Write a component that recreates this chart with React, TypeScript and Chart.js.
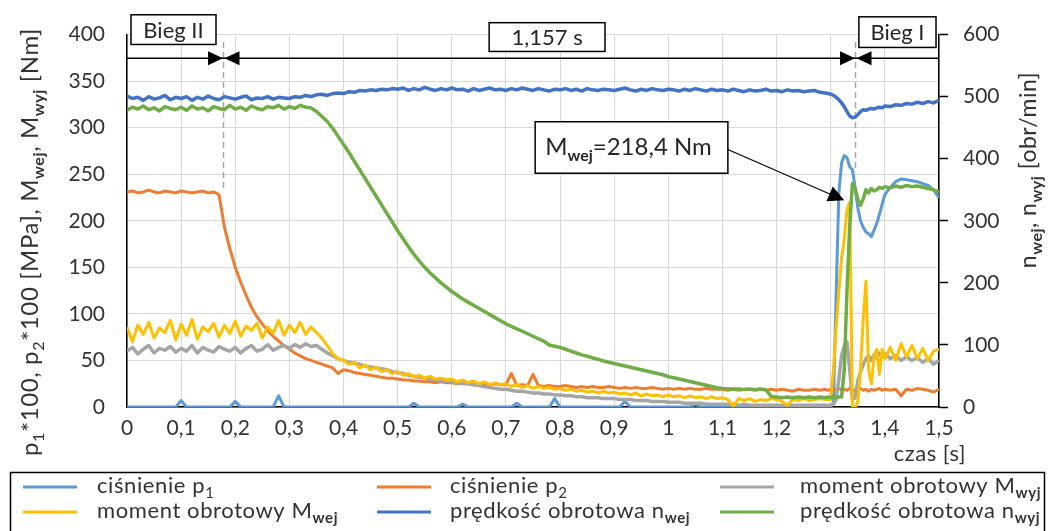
import React, { useEffect, useRef } from 'react';
import { Chart, registerables } from 'chart.js';
Chart.register(...registerables);

// ---------- data ----------
const times = [
  0, 0.01, 0.02, 0.03, 0.04, 0.05, 0.06, 0.07, 0.08, 0.09,
  0.1, 0.11, 0.12, 0.13, 0.14, 0.15, 0.16, 0.17, 0.18, 0.19,
  0.2, 0.21, 0.22, 0.23, 0.24, 0.25, 0.26, 0.27, 0.28, 0.29,
  0.3, 0.31, 0.32, 0.33, 0.34, 0.35, 0.36, 0.37, 0.38, 0.39,
  0.4, 0.41, 0.42, 0.43, 0.44, 0.45, 0.46, 0.47, 0.48, 0.49,
  0.5, 0.51, 0.52, 0.53, 0.54, 0.55, 0.56, 0.57, 0.58, 0.59,
  0.6, 0.61, 0.62, 0.63, 0.64, 0.65, 0.66, 0.67, 0.68, 0.69,
  0.7, 0.71, 0.72, 0.73, 0.74, 0.75, 0.76, 0.77, 0.78, 0.79,
  0.8, 0.81, 0.82, 0.83, 0.84, 0.85, 0.86, 0.87, 0.88, 0.89,
  0.9, 0.91, 0.92, 0.93, 0.94, 0.95, 0.96, 0.97, 0.98, 0.99,
  1.0, 1.01, 1.02, 1.03, 1.04, 1.05, 1.06, 1.07, 1.08, 1.09,
  1.1, 1.11, 1.12, 1.13, 1.14, 1.15, 1.16, 1.17, 1.18, 1.19,
  1.2, 1.21, 1.22, 1.23, 1.24, 1.25, 1.26, 1.27, 1.28, 1.29,
  1.295, 1.3, 1.305, 1.31, 1.315, 1.32, 1.325, 1.33, 1.335, 1.34, 1.345,
  1.35, 1.355, 1.36, 1.365, 1.37, 1.375, 1.38, 1.385, 1.39, 1.395, 1.4,
  1.41, 1.42, 1.43, 1.44, 1.45, 1.46, 1.47, 1.48, 1.49, 1.5,
];

// ciśnienie p1 (×100) – left axis
const pressureP1 = [
  0, 0, 0, 0, 0, 0, 0, 0, 0, 0,
  7, 0, 0, 0, 0, 0, 0, 0, 0, 0,
  6, 0, 0, 0, 0, 0, 0, 0, 12, 0,
  0, 0, 0, 0, 0, 0, 0, 0, 0, 0,
  0, 0, 0, 0, 0, 0, 0, 0, 0, 0,
  0, 0, 0, 4, 0, 0, 0, 0, 0, 0,
  0, 0, 3, 0, 0, 0, 0, 0, 0, 0,
  0, 0, 4, 0, 0, 0, 0, 0, 0, 9,
  0, 0, 0, 0, 0, 0, 0, 0, 0, 0,
  0, 0, 6, 0, 0, 0, 0, 0, 0, 0,
  0, 0, 0, 0, 0, 3, 0, 0, 0, 0,
  0, 0, 0, 0, 0, 0, 0, 0, 0, 0,
  0, 0, 0, 0, 0, 0, 0, 0, 0, 0,
  0, 0, 5, 120, 230, 262, 270, 268, 258, 255, 236,
  214, 200, 193, 188, 186, 183, 190, 197, 207, 218, 228,
  236, 242, 245, 244, 243, 242, 240, 238, 233, 225,
];

// ciśnienie p2 (×100) – left axis
const pressureP2 = [
  231, 232, 230, 231, 233, 231, 230, 232, 231, 230,
  232, 231, 230, 231, 232, 230, 231, 228, 193, 170,
  150, 134, 120, 107, 97, 89, 82, 76, 71, 66,
  62, 58, 55, 52, 50, 48, 46, 44, 42, 36,
  40, 39, 37, 36, 35, 34, 33, 32, 31, 31,
  30, 29, 29, 28, 28, 27, 27, 26, 27, 26,
  26, 25, 26, 25, 25, 24, 25, 24, 25, 24,
  24, 36, 23, 24, 23, 35, 23, 22, 23, 22,
  22, 23, 22, 21, 22, 21, 22, 21, 21, 22,
  21, 20, 21, 20, 21, 20, 20, 21, 20, 19,
  20, 19, 20, 19, 20, 19, 19, 20, 19, 19,
  19, 18, 19, 18, 19, 19, 18, 19, 18, 19,
  18, 19, 18, 17, 19, 18, 18, 19, 18, 19,
  18, 19, 18, 19, 20, 18, 19, 18, 20, 19, 18,
  19, 20, 18, 19, 17, 19, 18, 19, 20, 18, 19,
  18, 19, 12, 19, 18, 20, 19, 18, 16, 19,
];

// moment obrotowy Mwyj [Nm] – left axis
const torqueOut = [
  60, 64, 57, 62, 66, 58, 63, 61, 65, 59,
  63, 60, 66, 58, 64, 61, 59, 65, 62, 60,
  64, 58, 63, 66, 60, 62, 67, 61, 64, 66,
  63, 67, 64, 68, 65, 66, 62, 58, 55, 52,
  50, 48, 47, 46, 44, 43, 42, 41, 40, 38,
  37, 36, 34, 33, 32, 31, 30, 29, 28, 28,
  27, 26, 25, 25, 24, 23, 22, 21, 20, 19,
  19, 18, 17, 17, 16, 15, 15, 14, 14, 13,
  13, 12, 12, 11, 11, 10, 10, 10, 9, 9,
  9, 8, 8, 8, 7, 7, 7, 6, 6, 6,
  5, 5, 5, 4, 4, 4, 4, 3, 3, 3,
  3, 3, 3, 2, 3, 2, 2, 2, 2, 2,
  2, 2, 2, 2, 2, 2, 2, 2, 2, 2,
  2, 2, 3, 8, 30, 55, 66, 70, 40, 8, 10,
  28, 38, 45, 52, 55, 50, 56, 52, 58, 54, 57,
  52, 55, 50, 54, 50, 53, 48, 52, 46, 50,
];

// moment obrotowy Mwej [Nm] – left axis
const torqueIn = [
  86, 70, 88, 78, 91, 74, 85, 80, 93, 72,
  89, 77, 94, 73, 86, 81, 90, 75, 88, 79,
  92, 76, 87, 82, 90, 74, 86, 79, 93, 77,
  88, 80, 91, 78, 86, 80, 74, 66, 57, 52,
  50, 46, 48, 42, 45, 40, 43, 38, 40, 36,
  38, 34, 36, 32, 34, 31, 33, 30, 31, 29,
  30, 27, 29, 26, 28, 25, 27, 24, 26, 24,
  25, 22, 24, 21, 23, 20, 22, 20, 21, 19,
  20, 18, 19, 17, 18, 16, 17, 15, 17, 15,
  16, 14, 15, 13, 15, 12, 14, 12, 13, 11,
  13, 11, 12, 10, 12, 10, 11, 9, 11, 9,
  10, 8, 1, 9, 7, 9, 6, 8, 7, 9,
  8, 6, 2, 8, 7, 9, 7, 8, 9, 8,
  8, 8, 40, 85, 125, 160, 180, 212, 220, 0, 0,
  5, 40, 95, 135, 40, 25, 55, 62, 35, 62, 52,
  64, 50, 68, 54, 66, 52, 63, 50, 60, 62,
];

// prędkość obrotowa nwej [obr/min] – right axis
const speedIn = [
  501, 497, 499, 494, 500, 496, 498, 502, 495, 499,
  497, 500, 494, 499, 496, 501, 497, 495, 500, 498,
  496, 499, 501, 495, 498, 497, 500, 496, 499, 498,
  497, 500, 499, 502, 500, 503, 504, 502, 505, 506,
  505, 508, 507, 510, 509, 511, 510, 512, 511, 513,
  512, 514, 510, 513, 511, 515, 512, 510, 513, 511,
  514, 511, 512, 509, 513, 510, 512, 514, 511, 512,
  510, 513, 511, 514, 512, 510, 513, 511, 509, 512,
  511, 513, 510, 512, 509, 513, 511, 510, 512, 511,
  510, 512, 514, 511, 509, 512, 510, 513, 511, 510,
  512, 511, 509, 512, 510, 513, 511, 509, 512, 510,
  511, 509, 512, 510, 508, 511, 509, 510, 512, 509,
  510, 508, 511, 509, 510, 508, 509, 510, 507, 506,
  505, 504, 502, 499, 495, 490, 484, 476, 469, 466, 467,
  471, 476, 479, 478, 480, 481, 480, 482, 483, 482, 485,
  484, 487, 486, 489, 488, 491, 489, 492, 490, 494,
];

// prędkość obrotowa nwyj [obr/min] – right axis
const speedOut = [
  478, 483, 480, 485, 479, 482, 477, 484, 481, 479,
  483, 478, 485, 480, 482, 477, 484, 481, 479, 486,
  480, 483, 478, 485, 481, 479, 484, 482, 486, 480,
  484, 481, 486, 483, 482, 476, 468, 460, 449, 436,
  423, 410, 396, 382, 368, 354, 340, 326, 312, 298,
  284, 271, 258, 246, 235, 225, 216, 208, 200, 193,
  186, 180, 174, 169, 164, 159, 154, 149, 144, 139,
  134, 130, 126, 122, 118, 114, 110, 106, 100, 98,
  96, 93, 90, 87, 84, 82, 79, 77, 74, 72,
  70, 68, 66, 64, 62, 60, 58, 56, 54, 52,
  49, 47, 45, 43, 41, 39, 37, 35, 33, 31,
  30, 29, 29, 29, 28, 29, 28, 29, 28, 17,
  16, 15, 16, 15, 16, 15, 16, 15, 16, 15,
  16, 15, 16, 15, 16, 16, 60, 187, 290, 360, 352,
  335, 325, 335, 350, 345, 352, 348, 350, 354, 352, 355,
  353, 356, 354, 357, 355, 356, 354, 352, 350, 346,
];

// ---------- styling / annotations ----------
const FONT = 'Lato';
const TXT = '#333333';

type Seg = { t: string; sub?: boolean; bold?: boolean };

const seriesDefs = [
  { data: pressureP1, color: '#5B9BD5', axis: 'y', order: 6, width: 3, label: [{ t: 'ciśnienie p' }, { t: '1', sub: true }] },
  { data: pressureP2, color: '#ED7D31', axis: 'y', order: 5, width: 3, label: [{ t: 'ciśnienie p' }, { t: '2', sub: true }] },
  { data: torqueOut, color: '#A5A5A5', axis: 'y', order: 4, width: 3.5, label: [{ t: 'moment obrotowy M' }, { t: 'wyj', sub: true, bold: true }] },
  { data: torqueIn, color: '#FFC000', axis: 'y', order: 3, width: 3, label: [{ t: 'moment obrotowy M' }, { t: 'wej', sub: true, bold: true }] },
  { data: speedIn, color: '#4472C4', axis: 'y1', order: 2, width: 3.5, label: [{ t: 'prędkość obrotowa n' }, { t: 'wej', sub: true, bold: true }] },
  { data: speedOut, color: '#70AD47', axis: 'y1', order: 1, width: 3.5, label: [{ t: 'prędkość obrotowa n' }, { t: 'wyj', sub: true, bold: true }] },
];

const shiftTimes = [0.177, 1.345];
const spanLevel = 374.5;
const dashRanges = [
  { x: 0.177, y0: 392, y1: 232 },
  { x: 1.345, y0: 392, y1: 252 },
];
const labelBoxes = [
  { x0: 0.0074, x1: 0.1644, y0: 421.3, y1: 389.4, text: 'Bieg II' },
  { x0: 0.669, x1: 0.883, y0: 412.8, y1: 381.9, text: '1,157 s' },
  { x0: 1.352, x1: 1.4945, y0: 419.1, y1: 386.2, text: 'Bieg I' },
];
const callout = { x0: 0.754, x1: 1.11, y0: 306.4, y1: 251.1, tipX: 1.325, tipY: 222 };

let spacing = '0px';
function segFont(s: Seg, size: number) {
  const sz = s.sub ? Math.round(size * 0.68) : size;
  return `${s.bold ? 'bold ' : ''}${sz}px ${FONT}`;
}
function richWidth(ctx: CanvasRenderingContext2D, segs: Seg[], size: number) {
  let w = 0;
  for (const s of segs) { ctx.font = segFont(s, size); w += ctx.measureText(s.t).width; }
  return w;
}
function drawRich(ctx: CanvasRenderingContext2D, segs: Seg[], x: number, y: number, size: number, align: 'left' | 'center' | 'right', color: string, ls = '0px') {
  ctx.save();
  (ctx as any).letterSpacing = ls;
  ctx.textAlign = 'left';
  ctx.textBaseline = 'alphabetic';
  ctx.fillStyle = color;
  const w = richWidth(ctx, segs, size);
  let cx = align === 'left' ? x : align === 'center' ? x - w / 2 : x - w;
  for (const s of segs) {
    ctx.font = segFont(s, size);
    ctx.fillText(s.t, cx, s.sub ? y + size * 0.24 : y);
    cx += ctx.measureText(s.t).width;
  }
  ctx.restore();
}
function head(ctx: CanvasRenderingContext2D, tx: number, ty: number, dx: number, dy: number, len: number, half: number) {
  const n = Math.hypot(dx, dy); const ux = dx / n, uy = dy / n;
  const bx = tx - ux * len, by = ty - uy * len;
  ctx.beginPath();
  ctx.moveTo(tx, ty);
  ctx.lineTo(bx - uy * half, by + ux * half);
  ctx.lineTo(bx + uy * half, by - ux * half);
  ctx.closePath();
  ctx.fill();
}

const leftTitle: Seg[] = [
  { t: 'p' }, { t: '1', sub: true }, { t: '*100, p' }, { t: '2', sub: true }, { t: '*100 [MPa], M' },
  { t: 'wej', sub: true, bold: true }, { t: ', M' }, { t: 'wyj', sub: true, bold: true }, { t: ' [Nm]' },
];
const rightTitle: Seg[] = [
  { t: 'n' }, { t: 'wej', sub: true, bold: true }, { t: ', n' }, { t: 'wyj', sub: true, bold: true }, { t: ' [obr/min]' },
];

const decorPlugin = {
  id: 'decor',
  beforeDatasetsDraw(chart: any) {
    const { ctx } = chart;
    const xs = chart.scales.x, ys = chart.scales.y;
    ctx.save();
    ctx.strokeStyle = '#a6a6a6';
    ctx.lineWidth = 1.5;
    ctx.setLineDash([6, 4]);
    for (const d of dashRanges) {
      const px = Math.round(xs.getPixelForValue(d.x)) + 0.5;
      ctx.beginPath();
      ctx.moveTo(px, ys.getPixelForValue(d.y0));
      ctx.lineTo(px, ys.getPixelForValue(d.y1));
      ctx.stroke();
    }
    ctx.restore();
  },
  afterDraw(chart: any) {
    const { ctx } = chart;
    const xs = chart.scales.x, ys = chart.scales.y;
    const X = (v: number) => xs.getPixelForValue(v);
    const Y = (v: number) => ys.getPixelForValue(v);
    ctx.save();
    // span line with arrows
    ctx.strokeStyle = '#000';
    ctx.fillStyle = '#000';
    ctx.lineWidth = 1.5;
    const hy = Y(spanLevel);
    ctx.beginPath();
    ctx.moveTo(X(0), hy);
    ctx.lineTo(X(1.5), hy);
    ctx.stroke();
    for (const t of shiftTimes) {
      const px = Math.round(X(t));
      head(ctx, px, hy, 1, 0, 15, 7);
      head(ctx, px + 1.5, hy, -1, 0, 15, 7);
    }
    // label boxes
    for (const b of labelBoxes) {
      const x0 = X(b.x0), x1 = X(b.x1), y0 = Y(b.y0), y1 = Y(b.y1);
      ctx.fillStyle = '#fff';
      ctx.fillRect(x0, y0, x1 - x0, y1 - y0);
      ctx.strokeStyle = '#000';
      ctx.lineWidth = 1.5;
      ctx.strokeRect(x0, y0, x1 - x0, y1 - y0);
      drawRich(ctx, [{ t: b.text }], (x0 + x1) / 2, (y0 + y1) / 2 + 8, 22, 'center', '#262626');
    }
    // callout
    {
      const x0 = X(callout.x0), x1 = X(callout.x1), y0 = Y(callout.y0), y1 = Y(callout.y1);
      const sx = x1, sy = (y0 + y1) / 2 + 2;
      const tx = X(callout.tipX), ty = Y(callout.tipY);
      ctx.strokeStyle = '#000';
      ctx.lineWidth = 1.2;
      ctx.beginPath();
      ctx.moveTo(sx, sy);
      ctx.lineTo(tx - (tx - sx) * 0.1, ty - (ty - sy) * 0.1);
      ctx.stroke();
      ctx.fillStyle = '#000';
      head(ctx, tx, ty, tx - sx, ty - sy, 16, 8);
      ctx.fillStyle = '#fff';
      ctx.fillRect(x0, y0, x1 - x0, y1 - y0);
      ctx.lineWidth = 1.5;
      ctx.strokeRect(x0, y0, x1 - x0, y1 - y0);
      drawRich(ctx, [{ t: 'M' }, { t: 'wej', sub: true, bold: true }, { t: '=218,4 Nm' }], x0 + 10, y0 + 33, 24, 'left', '#262626');
    }
    // axis titles
    ctx.save();
    ctx.translate(38, 242);
    ctx.rotate(-Math.PI / 2);
    drawRich(ctx, leftTitle, 0, 0, 24, 'center', TXT, '0.6px');
    ctx.restore();
    ctx.save();
    ctx.translate(1036, 170);
    ctx.rotate(-Math.PI / 2);
    drawRich(ctx, rightTitle, 0, 0, 23, 'center', TXT, '0.5px');
    ctx.restore();
    drawRich(ctx, [{ t: 'czas [s]' }], 966, 461, 22, 'right', TXT, '0.5px');
    // legend
    ctx.strokeStyle = '#000';
    ctx.lineWidth = 1.5;
    ctx.strokeRect(10.5, 472.5, 1034, 80);
    const lineX = [23, 377, 720];
    const textX = [97, 450, 800];
    const rowY = [487, 512];
    seriesDefs.forEach((s, i) => {
      const c = i % 3, r = Math.floor(i / 3);
      ctx.strokeStyle = s.color;
      ctx.lineWidth = 3;
      ctx.beginPath();
      ctx.moveTo(lineX[c], rowY[r]);
      ctx.lineTo(lineX[c] + 54, rowY[r]);
      ctx.stroke();
      drawRich(ctx, s.label as Seg[], textX[c], rowY[r] + 6, 22, 'left', TXT, '0.6px');
    });
    ctx.restore();
  },
};

function fmtX(v: number) {
  const r = Math.round(v * 10) / 10;
  return String(r).replace('.', ',');
}

export default function App() {
  const ref = useRef<HTMLCanvasElement | null>(null);
  useEffect(() => {
    if (!ref.current) return;
    Chart.defaults.font.family = FONT;
    const chart = new Chart(ref.current, {
      type: 'line',
      data: {
        datasets: seriesDefs.map((s) => ({
          data: times.map((t, i) => ({ x: t, y: s.data[i] })),
          borderColor: s.color,
          backgroundColor: s.color,
          borderWidth: s.width,
          pointRadius: 0,
          tension: 0,
          yAxisID: s.axis,
          order: s.order,
          borderJoinStyle: 'round' as const,
        })),
      },
      options: {
        animation: false,
        responsive: false,
        devicePixelRatio: 1,
        layout: { padding: { top: 31, left: 0, right: 0, bottom: 0 } },
        plugins: { legend: { display: false }, tooltip: { enabled: false } },
        scales: {
          x: {
            type: 'linear',
            min: 0,
            max: 1.5,
            afterFit: (sc: any) => { sc.height = 124; },
            ticks: { stepSize: 0.1, callback: (v: any) => fmtX(Number(v)), font: { size: 21 }, color: TXT, padding: 9, maxRotation: 0, autoSkip: false },
            grid: { color: '#d9d9d9', lineWidth: 1, drawTicks: false },
            border: { color: '#000', width: 1.5 },
          },
          y: {
            position: 'left',
            min: 0,
            max: 400,
            afterFit: (sc: any) => { sc.width = 127; },
            ticks: { stepSize: 50, font: { size: 21 }, color: TXT, padding: 22 },
            grid: { color: '#d9d9d9', lineWidth: 1, drawTicks: false },
            border: { color: '#000', width: 1.5 },
          },
          y1: {
            position: 'right',
            min: 0,
            max: 600,
            afterFit: (sc: any) => { sc.width = 110; },
            ticks: { stepSize: 100, font: { size: 21 }, color: TXT, padding: 15 },
            grid: { drawOnChartArea: false, drawTicks: true, tickLength: 9, tickColor: '#000', tickWidth: 1.5 },
            border: { color: '#000', width: 1.5 },
          },
        },
      },
      plugins: [decorPlugin],
    });
    return () => chart.destroy();
  }, []);
  return (
    <div style={{ position: 'fixed', left: 0, top: 0, width: 1049, height: 531, background: '#fff' }}>
      <canvas ref={ref} width={1049} height={531} style={{ width: 1049, height: 531 }} />
    </div>
  );
}
